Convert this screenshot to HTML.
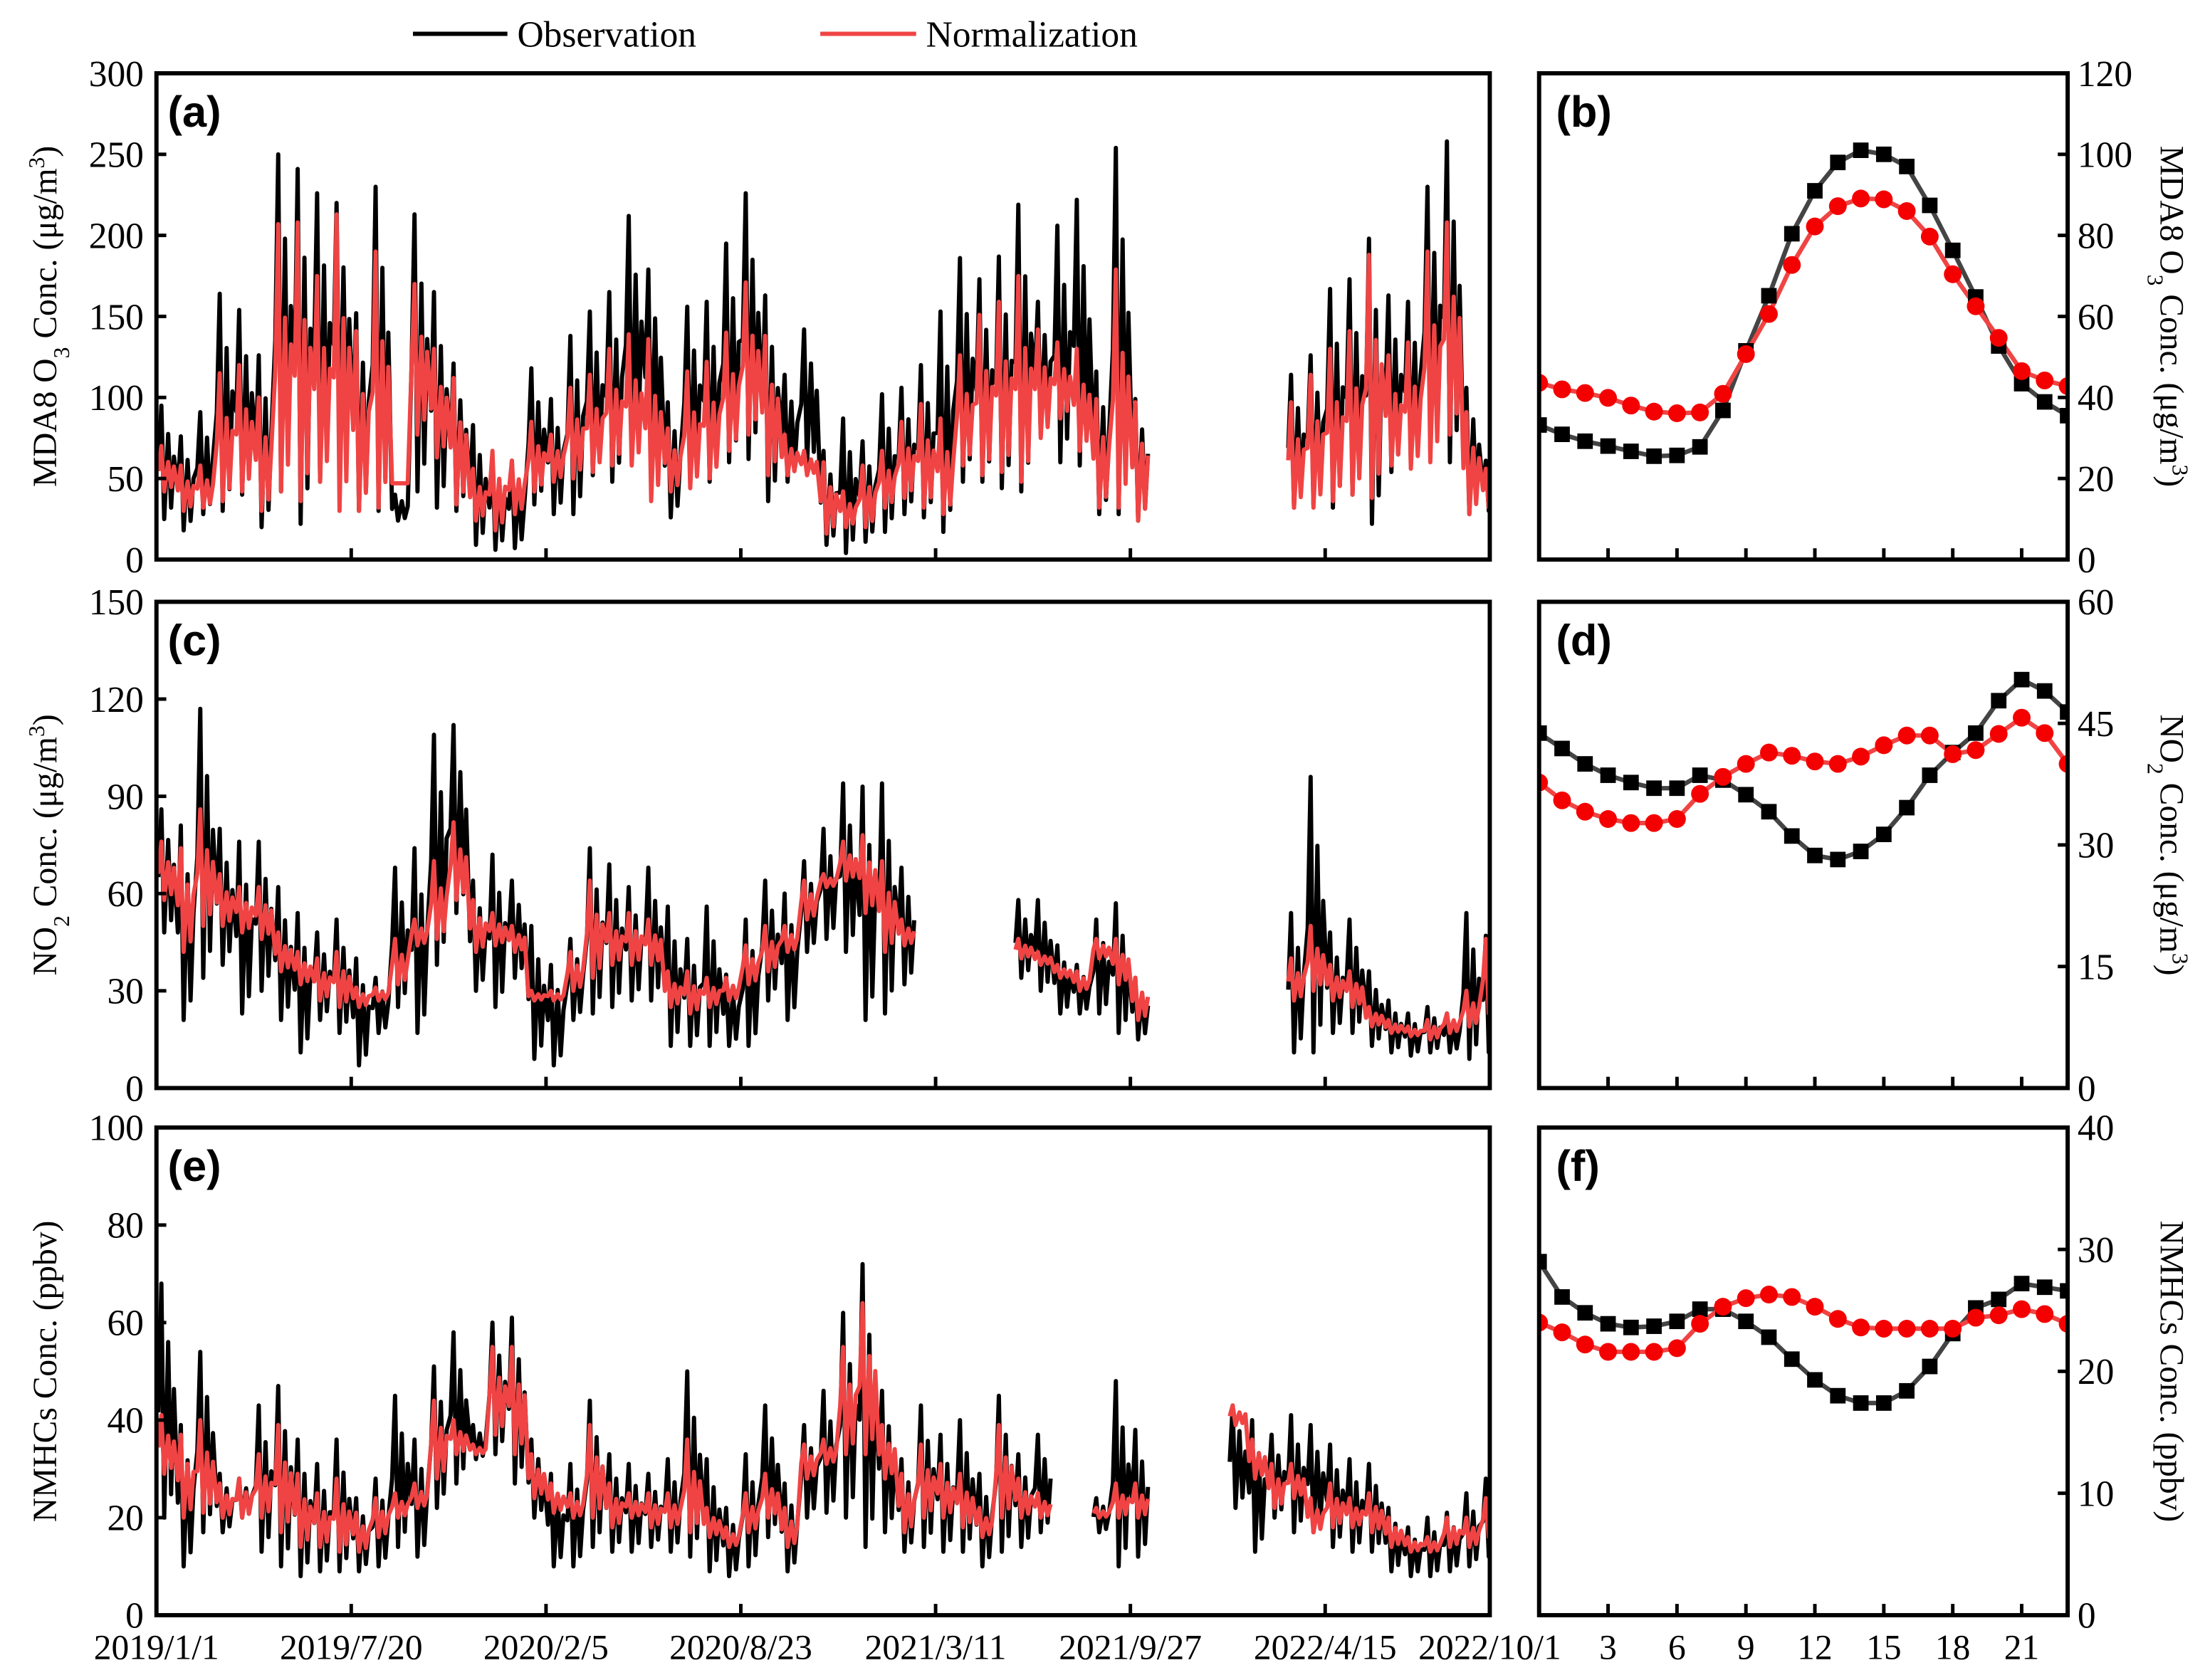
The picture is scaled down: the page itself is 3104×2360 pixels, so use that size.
<!DOCTYPE html>
<html><head><meta charset="utf-8">
<style>
html,body{margin:0;padding:0;background:#fff;}
svg{display:block;}
text{font-family:"Liberation Serif",serif;fill:#000;}
.pl{font-family:"Liberation Sans",sans-serif;font-weight:bold;font-size:31px;}
</style></head>
<body>
<svg id="chart" width="3104" height="2360" viewBox="0 0 1568 1192" preserveAspectRatio="none" xmlns="http://www.w3.org/2000/svg">
<g id="legend">
  <g>
    <line x1="293" y1="24" x2="360" y2="24" stroke="#000" stroke-width="3"/>
    <text x="367" y="33" font-size="26">Observation</text>
  </g>
  <g>
    <line x1="582" y1="24" x2="650" y2="24" stroke="#f04444" stroke-width="3"/>
    <text x="657" y="33" font-size="26">Normalization</text>
  </g>
</g>
<g id="plots"></g>
</svg>
<script>
// ---- time-series data (20-day bins from 2019/1/1) ----
const dateTicks = ["2019/1/1","2019/7/20","2020/2/5","2020/8/23","2021/3/11","2021/9/27","2022/4/15","2022/10/1"];
const dateTickDays = [0,200,400,600,800,1000,1200,1369];
const N7 = [null,null,null,null,null,null,null];
const o3ObsHi = [95,76,91,164,154,126,250,241,226,220,152,230,40,213,165,121,83,64,61,118,99,138,153,165,212,179,97,156,159,195,226,163,114,142,67,87,73,102,106,120,153,186,173,187,219,159,206,222,116,254,99,...N7,114,126,167,173,198,163,159,230,258,106,61];
const o3ObsLo = [25,18,28,30,40,20,42,22,48,61,30,30,24,42,32,30,9,6,7,34,28,28,52,48,67,58,26,48,48,60,62,36,48,58,9,4,11,17,28,26,17,48,48,44,42,77,60,58,28,28,24,...N7,32,34,32,40,22,54,58,67,60,28,30];
const o3NormHi = [70,58,58,115,120,100,207,208,175,213,141,190,47,170,130,112,56,67,61,85,77,106,114,130,139,136,81,116,122,140,171,138,77,67,60,42,58,67,85,96,87,126,151,159,175,142,134,130,99,179,97,...N7,97,114,130,141,188,126,134,190,208,91,56];
const o3NormLo = [42,30,32,36,42,30,42,36,48,30,30,32,47,77,63,34,24,18,28,42,48,50,54,58,58,36,42,44,50,67,77,52,52,52,16,20,20,32,38,32,28,58,52,54,48,75,87,67,32,32,24,...N7,32,32,36,40,38,58,56,60,77,28,32];
const N5 = [null,null,null,null,null];
const no2ObsHi = [86,81,117,80,76,76,62,54,48,52,40,34,68,74,109,112,64,72,64,50,38,46,74,69,62,68,56,46,56,35,52,64,60,70,80,94,93,94,68,...N5,58,58,44,38,52,57,34,...N7,54,96,48,52,36,27,23,25,23,54,47];
const no2ObsLo = [48,21,34,38,23,30,21,11,21,17,7,17,25,17,38,54,30,25,34,9,7,21,23,25,27,27,13,13,13,13,13,27,21,42,46,42,21,23,32,...N5,34,30,23,23,23,17,15,...N7,11,11,17,17,13,11,10,11,11,9,11];
const no2NormHi = [76,74,86,66,62,62,48,42,40,42,31,31,46,52,70,82,58,54,50,30,30,42,64,54,54,52,36,36,34,34,44,50,50,64,66,76,78,70,52,...N5,46,42,38,36,46,46,34,...N7,40,50,38,36,25,21,19,21,23,30,46];
const no2NormLo = [58,42,50,50,48,46,36,32,27,25,25,27,32,44,46,58,42,44,42,27,27,30,34,38,38,38,25,23,25,27,32,36,42,52,62,64,54,42,44,...N5,40,38,34,30,40,32,21,...N7,27,30,27,25,19,17,16,15,17,19,23];
const nmObsHi = [68,39,54,29,28,43,47,36,31,36,24,28,45,36,51,58,39,60,61,36,29,31,44,33,31,29,32,50,32,22,33,43,27,39,46,62,72,46,32,43,37,40,29,45,33,37,null,null,24,48,38,null,null,null,null,43,40,37,41,39,35,32,31,22,18,20,21,25,28];
const nmObsLo = [20,10,17,17,20,13,10,8,9,9,9,10,14,12,22,27,32,33,27,20,10,10,14,13,13,14,13,12,9,8,10,16,9,20,21,20,14,17,13,14,13,13,10,13,14,17,null,null,17,10,12,null,null,null,null,22,13,20,17,17,14,13,13,9,8,8,9,10,12];
const nmNormHi = [41,37,40,27,28,33,39,29,25,28,21,24,25,27,44,40,35,55,55,33,27,25,39,27,25,25,25,36,22,18,25,29,22,35,36,55,64,39,29,35,31,29,22,39,28,25,null,null,22,27,27,null,null,null,null,43,36,31,31,24,27,24,25,20,16,16,20,20,24];
const nmNormLo = [29,20,21,20,20,20,17,14,14,13,13,16,20,22,28,33,33,37,33,24,21,20,20,18,20,18,18,17,16,14,17,20,14,28,31,33,33,28,17,20,20,18,16,20,20,20,null,null,20,20,20,null,null,null,null,39,28,22,24,17,18,18,17,14,13,13,14,14,16];

// ---- diurnal data (hour 0..23) ----
const hours = [0,1,2,3,4,5,6,7,8,9,10,11,12,13,14,15,16,17,18,19,20,21,22,23];
const hourTicks = [3,6,9,12,15,18,21];
const o3DiurnalObs = [33.2,30.9,29.2,28,26.7,25.5,25.7,27.8,36.8,51.5,65.1,80.4,91,98,101,100,97,87.4,76.3,64.8,52.7,43.4,38.9,35.5];
const o3DiurnalNorm = [43.6,42,41.1,39.9,38,36.5,36.1,36.3,40.9,50.7,60.6,72.7,82.2,87.2,89.1,88.9,86,79.7,70.4,62.5,54.7,46.5,44.2,42.8];
const no2DiurnalObs = [43.8,41.9,40,38.6,37.7,37,37,38.6,38,36.2,34.1,31.1,28.7,28.2,29.2,31.3,34.6,38.6,41.4,43.8,47.8,50.4,49,46.4];
const no2DiurnalNorm = [37.7,35.5,34.1,33.2,32.7,32.7,33.2,36.3,38.4,40,41.4,41,40.3,40,40.9,42.3,43.5,43.5,41.2,41.7,43.7,45.7,43.8,40];
const nmDiurnalObs = [29,26.1,24.8,23.9,23.6,23.7,24.1,25.1,25.1,24.1,22.8,21,19.3,18,17.4,17.4,18.4,20.4,23.1,25.2,25.9,27.2,26.9,26.6];
const nmDiurnalNorm = [24,23.2,22.2,21.6,21.6,21.6,21.9,23.9,25.3,26,26.3,26.1,25.3,24.3,23.6,23.5,23.5,23.5,23.5,24.4,24.6,25.1,24.7,23.9];

const NS = "http://www.w3.org/2000/svg";
const root = document.getElementById('plots');
function mk(tag, attrs, parent){const e=document.createElementNS(NS,tag);for(const k in attrs)e.setAttribute(k,attrs[k]);(parent||root).appendChild(e);return e;}

const LX0=111, LX1=1057, RX0=1092, RX1=1467, TOTAL_DAYS=1369, BIN=20;
function xDay(d){return LX0+d*(LX1-LX0)/TOTAL_DAYS;}
function xHour(h){return RX0+h*(RX1-RX0)/23;}

function title(parent,x,y,rot,parts){
  const t=mk('text',{x:0,y:0,'font-size':24,'text-anchor':'middle',transform:`translate(${x},${y}) rotate(${rot})`},parent);
  parts.forEach(p=>{const s=mk('tspan',{},t);s.textContent=p[0];
    if(p[1]==='sub'){s.setAttribute('baseline-shift','sub');s.setAttribute('font-size','16');}
    if(p[1]==='sup'){s.setAttribute('baseline-shift','super');s.setAttribute('font-size','16');}});
  return t;
}

const leftPanels=[
 {id:'a',top:52,bot:397,ymax:300,step:50,hi:o3ObsHi,lo:o3ObsLo,nhi:o3NormHi,nlo:o3NormLo,
  title:[["MDA8 O"],["3","sub"],[" Conc. (μg/m"],["3","sup"],[")"]]},
 {id:'c',top:427,bot:772,ymax:150,step:30,hi:no2ObsHi,lo:no2ObsLo,nhi:no2NormHi,nlo:no2NormLo,
  title:[["NO"],["2","sub"],[" Conc. (μg/m"],["3","sup"],[")"]]},
 {id:'e',top:800,bot:1146,ymax:100,step:20,hi:nmObsHi,lo:nmObsLo,nhi:nmNormHi,nlo:nmNormLo,
  title:[["NMHCs Conc. (ppbv)"]]}
];
const rightPanels=[
 {id:'b',top:52,bot:397,ymax:120,step:20,obs:o3DiurnalObs,norm:o3DiurnalNorm,
  title:[["MDA8 O"],["3","sub"],[" Conc. (μg/m"],["3","sup"],[")"]]},
 {id:'d',top:427,bot:772,ymax:60,step:15,obs:no2DiurnalObs,norm:no2DiurnalNorm,
  title:[["NO"],["2","sub"],[" Conc. (μg/m"],["3","sup"],[")"]]},
 {id:'f',top:800,bot:1146,ymax:40,step:10,obs:nmDiurnalObs,norm:nmDiurnalNorm,
  title:[["NMHCs Conc. (ppbv)"]]}
];

function zigzag(hi,lo,ys,frac){
  let d='',pen=false;
  for(let i=0;i<hi.length;i++){
    if(hi[i]==null||lo[i]==null){pen=false;continue;}
    const h=hi[i],l=lo[i],r=h-l;
    const pts=[[BIN*i+2,l+r*0.45],[BIN*i+5,h],[BIN*i+8,l],[BIN*i+12,l+r*frac],[BIN*i+15,l+r*0.1],[BIN*i+18,l+r*0.55]];
    pts.forEach(p=>{d+=(pen?'L':'M')+xDay(p[0]).toFixed(1)+','+ys(p[1]).toFixed(1);pen=true;});
  }
  return d;
}

leftPanels.forEach((P,k)=>{
  const g=mk('g',{});
  
  
  const ys=v=>P.bot-(v/P.ymax)*(P.bot-P.top);
  const cp=mk('clipPath',{id:'clip'+P.id},g);mk('rect',{x:LX0,y:P.top,width:LX1-LX0,height:P.bot-P.top},cp);
  const ob=mk('path',{d:zigzag(P.hi,P.lo,ys,0.75),fill:'none',stroke:'#000','stroke-width':3,'stroke-linejoin':'round','clip-path':`url(#clip${P.id})`},g);
  
  
  const nm=mk('path',{d:zigzag(P.nhi,P.nlo,ys,0.65),fill:'none',stroke:'#f04444','stroke-width':3,'stroke-linejoin':'round','clip-path':`url(#clip${P.id})`},g);
  
  
  for(let v=0;v<=P.ymax;v+=P.step){
    const y=ys(v);
    if(v>0&&v<P.ymax) mk('line',{x1:LX0,x2:LX0+7,y1:y,y2:y,stroke:'#000','stroke-width':2.5},g);
    const t=mk('text',{x:LX0-9,y:y+9,'font-size':26,'text-anchor':'end'},g);
    
    
    t.textContent=v;
  }
  dateTickDays.forEach((d,j)=>{
    const x=xDay(d);
    if(j>0&&j<dateTickDays.length-1) mk('line',{x1:x,x2:x,y1:P.bot,y2:P.bot-8,stroke:'#000','stroke-width':2.5},g);
    if(k===2){
      const t=mk('text',{x:x,y:1177,'font-size':25,'text-anchor':'middle'},g);
      
      
      t.textContent=dateTicks[j];
    }
  });
  const fr=mk('rect',{x:LX0,y:P.top,width:LX1-LX0,height:P.bot-P.top,fill:'none',stroke:'#000','stroke-width':3},g);
  
  
  const lb=mk('text',{x:119,y:P.top+38,class:'pl'},g);
  
  
  lb.textContent='('+P.id+')';
  const yt=title(g,40,(P.top+P.bot)/2,-90,P.title);
  
  
});

rightPanels.forEach((P,k)=>{
  const g=mk('g',{});
  
  
  const ys=v=>P.bot-(v/P.ymax)*(P.bot-P.top);
  const cp=mk('clipPath',{id:'clip'+P.id},g);mk('rect',{x:RX0,y:P.top,width:RX1-RX0,height:P.bot-P.top},cp);
  const cg=mk('g',{'clip-path':`url(#clip${P.id})`},g);
  const lo=mk('polyline',{points:hours.map((h,i)=>xHour(h)+','+ys(P.obs[i])).join(' '),fill:'none',stroke:'#444','stroke-width':3.2},cg);
  
  
  const ln=mk('polyline',{points:hours.map((h,i)=>xHour(h)+','+ys(P.norm[i])).join(' '),fill:'none',stroke:'#f04444','stroke-width':3.2},cg);
  
  
  hours.forEach((h,i)=>{
    const s=mk('rect',{x:xHour(h)-5.5,y:ys(P.obs[i])-5.5,width:11,height:11,fill:'#000'},cg);
    
    
  });
  hours.forEach((h,i)=>{
    const c=mk('circle',{cx:xHour(h),cy:ys(P.norm[i]),r:6.3,fill:'#f50000'},cg);
    
    
  });
  for(let v=0;v<=P.ymax;v+=P.step){
    const y=ys(v);
    if(v>0&&v<P.ymax) mk('line',{x1:RX1,x2:RX1-7,y1:y,y2:y,stroke:'#000','stroke-width':2.5},g);
    const t=mk('text',{x:RX1+7,y:y+9,'font-size':26,'text-anchor':'start'},g);
    
    
    t.textContent=v;
  }
  hourTicks.forEach(h=>{
    const x=xHour(h);
    mk('line',{x1:x,x2:x,y1:P.bot,y2:P.bot-8,stroke:'#000','stroke-width':2.5},g);
    if(k===2){
      const t=mk('text',{x:x,y:1177,'font-size':25,'text-anchor':'middle'},g);
      
      
      t.textContent=h;
    }
  });
  const fr=mk('rect',{x:RX0,y:P.top,width:RX1-RX0,height:P.bot-P.top,fill:'none',stroke:'#000','stroke-width':3},g);
  
  
  const lb=mk('text',{x:1104,y:P.top+38,class:'pl'},g);
  
  
  lb.textContent='('+P.id+')';
  const yt=title(g,1533,(P.top+P.bot)/2,90,P.title);
  
  
});
</script>
</body></html>
